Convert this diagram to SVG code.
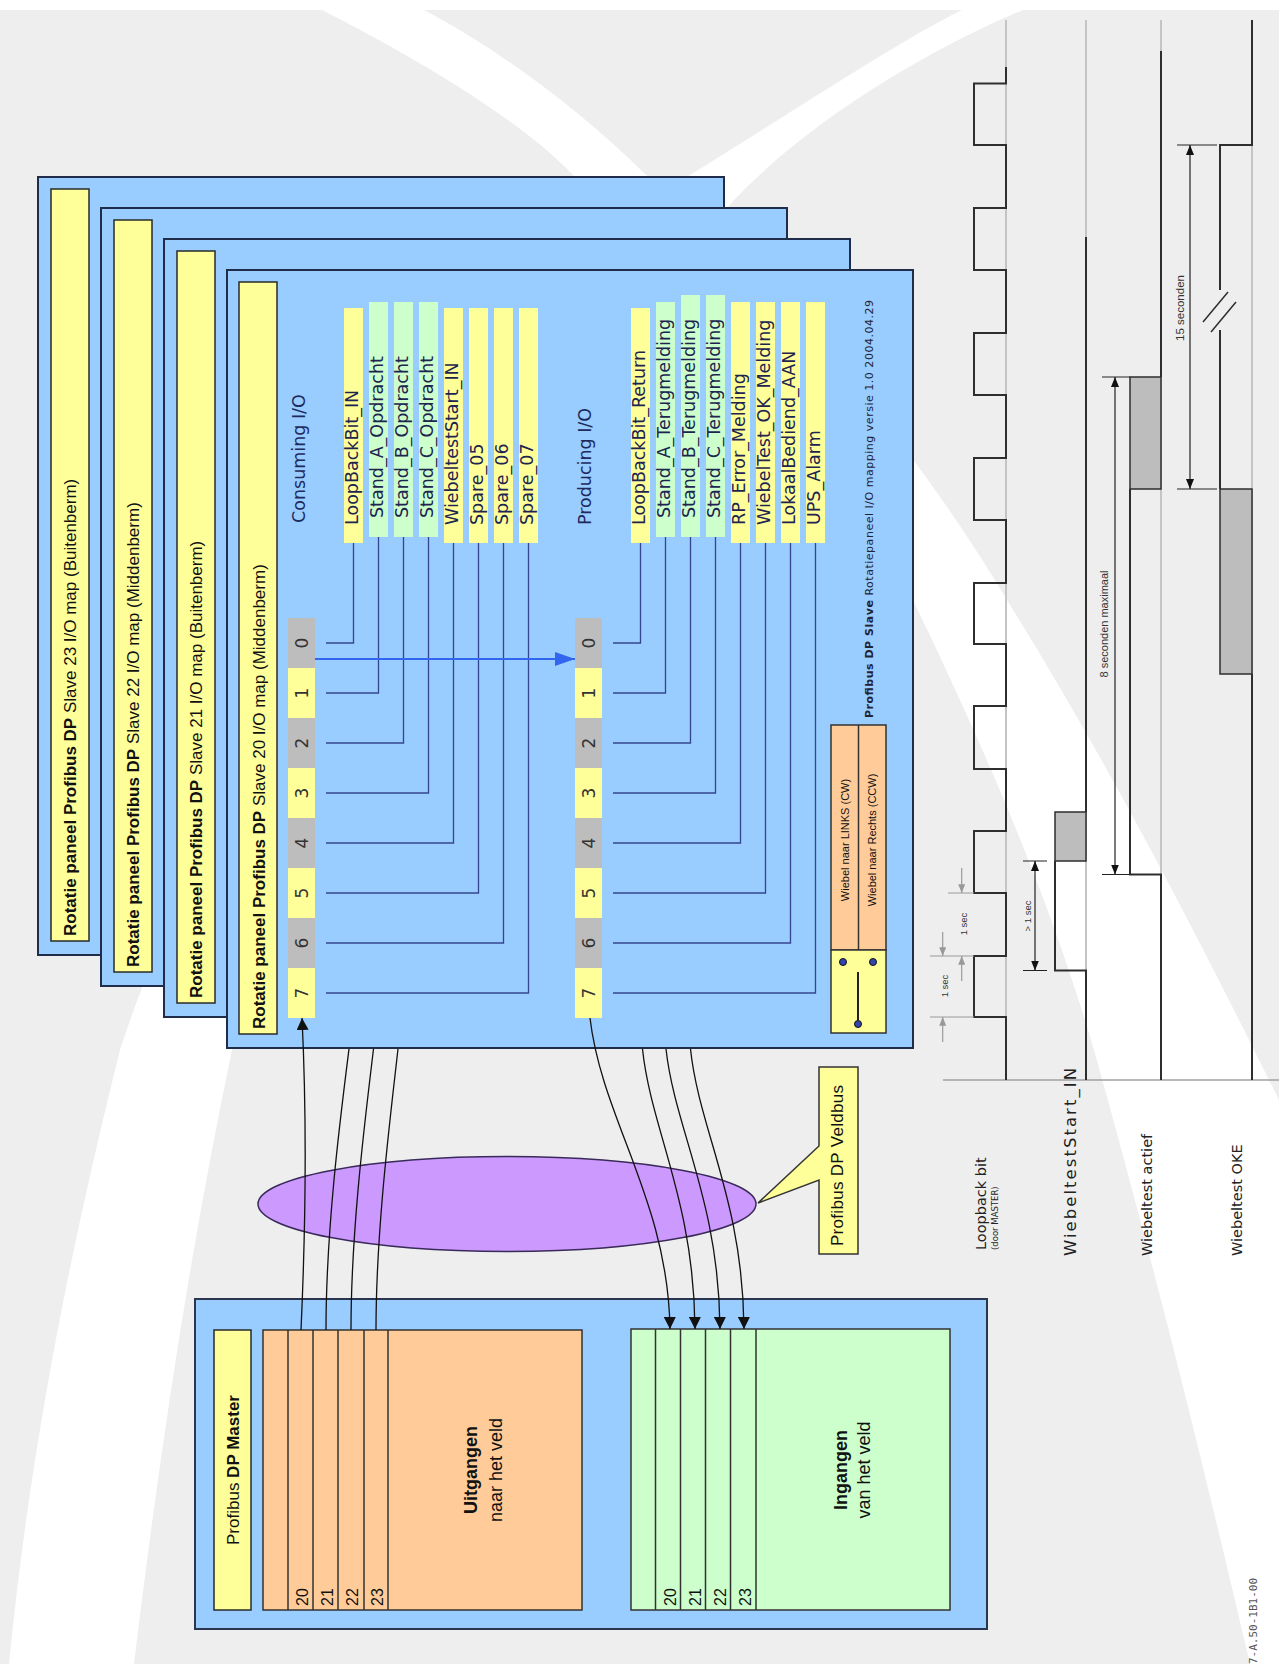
<svg xmlns="http://www.w3.org/2000/svg" width="1279" height="1664" viewBox="0 0 1279 1664">
<defs>
<style>
.panel{fill:#99ccff;stroke:#1f2c4a;stroke-width:2}
.tbar{fill:#ffff99;stroke:#2a2a2a;stroke-width:1.5}
.ttl{font-family:"Liberation Sans",Arial,sans-serif;font-size:17px;fill:#111}
.b{font-weight:bold}
.lbl{font-family:"DejaVu Sans",Verdana,sans-serif;font-size:17.5px;fill:#1d2450}
.hdr{font-family:"DejaVu Sans",Verdana,sans-serif;font-size:17.5px;fill:#1d2a5e}
.dig{font-family:"DejaVu Sans",Verdana,sans-serif;font-size:17px;fill:#333;text-anchor:middle}
.y{fill:#ffff99}
.g{fill:#ccffcc}
.gc{fill:#bdbdbd}
.wire{fill:none;stroke:#34458f;stroke-width:1.3}
.bus{fill:none;stroke:#111;stroke-width:1.3}
.wave{fill:none;stroke:#2e2e2e;stroke-width:2}
.base{fill:none;stroke:#c4c4c4;stroke-width:2}
.dim{fill:none;stroke:#222;stroke-width:1.2}
.dimg{fill:none;stroke:#9a9a9a;stroke-width:1.2}
.tbox{fill:#bdbdbd;stroke:#2e2e2e;stroke-width:1.5}
.small{font-family:"Liberation Sans",Arial,sans-serif;fill:#333;text-anchor:middle}
.sig{font-family:"DejaVu Sans",Verdana,sans-serif;fill:#222}
.ms{font-family:"Liberation Sans",Arial,sans-serif;fill:#111}
.box{stroke:#333;stroke-width:1.5}
</style>
<marker id="ah" viewBox="0 0 12 12" refX="12" refY="6" markerWidth="12" markerHeight="12" markerUnits="userSpaceOnUse" orient="auto"><path d="M0,0 L12,6 L0,12 Z" fill="#111"/></marker>
<marker id="ahb" viewBox="0 0 20 14" refX="20" refY="7" markerWidth="20" markerHeight="14" markerUnits="userSpaceOnUse" orient="auto"><path d="M0,0 L20,7 L0,14 Z" fill="#3366ee"/></marker>
<marker id="da" viewBox="0 0 10 8" refX="10" refY="4" markerWidth="10" markerHeight="8" markerUnits="userSpaceOnUse" orient="auto-start-reverse"><path d="M0,0 L10,4 L0,8 Z" fill="#111"/></marker>
<marker id="dg" viewBox="0 0 10 8" refX="10" refY="4" markerWidth="9" markerHeight="7" markerUnits="userSpaceOnUse" orient="auto"><path d="M0,0 L10,4 L0,8 Z" fill="#999"/></marker>
</defs>

<g id="background">
<rect x="0" y="0" width="1279" height="1664" fill="#ffffff"/>
<rect x="0" y="10" width="1279" height="1654" fill="#eeeeee"/>
<path d="M962,10 C900,40 780,120 690,175 C450,400 200,800 120,1050 C70,1250 30,1450 9,1664 L134,1664 C160,1450 190,1250 232,1050 C320,800 550,420 734,200 C820,110 950,40 1023,10 Z" fill="#ffffff"/>
<path d="M322,10 C420,60 520,120 571,173 C700,320 850,480 913,600 C990,760 1050,900 1094,1050 C1150,1250 1200,1450 1250,1664 L1279,1664 L1279,1100 C1180,900 1100,750 1007,600 C900,420 760,270 644,173 C580,110 500,50 424,10 Z" fill="#ffffff"/>
</g>

<g id="slave23">
<rect class="panel" x="38" y="177" width="686" height="778"/>
<rect class="tbar" x="51" y="189" width="38" height="752"/>
<text class="ttl" transform="translate(76,936) rotate(-90)"><tspan class="b">Rotatie paneel Profibus DP</tspan> Slave 23 I/O map (Buitenberm)</text>
</g>
<g id="slave22">
<rect class="panel" x="101" y="208" width="686" height="778"/>
<rect class="tbar" x="114" y="220" width="38" height="752"/>
<text class="ttl" transform="translate(139,967) rotate(-90)"><tspan class="b">Rotatie paneel Profibus DP</tspan> Slave 22 I/O map (Middenberm)</text>
</g>
<g id="slave21">
<rect class="panel" x="164" y="239" width="686" height="778"/>
<rect class="tbar" x="177" y="251" width="38" height="752"/>
<text class="ttl" transform="translate(202,998) rotate(-90)"><tspan class="b">Rotatie paneel Profibus DP</tspan> Slave 21 I/O map (Buitenberm)</text>
</g>
<g id="slave20">
<rect class="panel" x="227" y="270" width="686" height="778"/>
<rect class="tbar" x="239" y="282" width="38" height="752"/>
<text class="ttl" transform="translate(265,1029) rotate(-90)"><tspan class="b">Rotatie paneel Profibus DP</tspan> Slave 20 I/O map (Middenberm)</text>
<text class="hdr" transform="translate(305,523) rotate(-90)">Consuming I/O</text>
<text class="hdr" transform="translate(591,525) rotate(-90)">Producing I/O</text>
</g>

<g id="consuming-bits">
<rect class="gc" x="288" y="618" width="27" height="50"/>
<rect class="y" x="288" y="668" width="27" height="50"/>
<rect class="gc" x="288" y="718" width="27" height="50"/>
<rect class="y" x="288" y="768" width="27" height="50"/>
<rect class="gc" x="288" y="818" width="27" height="50"/>
<rect class="y" x="288" y="868" width="27" height="50"/>
<rect class="gc" x="288" y="918" width="27" height="50"/>
<rect class="y" x="288" y="968" width="27" height="50"/>
<text class="dig" transform="translate(307.5,643) rotate(-90)">0</text>
<text class="dig" transform="translate(307.5,693) rotate(-90)">1</text>
<text class="dig" transform="translate(307.5,743) rotate(-90)">2</text>
<text class="dig" transform="translate(307.5,793) rotate(-90)">3</text>
<text class="dig" transform="translate(307.5,843) rotate(-90)">4</text>
<text class="dig" transform="translate(307.5,893) rotate(-90)">5</text>
<text class="dig" transform="translate(307.5,943) rotate(-90)">6</text>
<text class="dig" transform="translate(307.5,993) rotate(-90)">7</text>
</g>
<g id="producing-bits">
<rect class="gc" x="575" y="618" width="27" height="50"/>
<rect class="y" x="575" y="668" width="27" height="50"/>
<rect class="gc" x="575" y="718" width="27" height="50"/>
<rect class="y" x="575" y="768" width="27" height="50"/>
<rect class="gc" x="575" y="818" width="27" height="50"/>
<rect class="y" x="575" y="868" width="27" height="50"/>
<rect class="gc" x="575" y="918" width="27" height="50"/>
<rect class="y" x="575" y="968" width="27" height="50"/>
<text class="dig" transform="translate(594.5,643) rotate(-90)">0</text>
<text class="dig" transform="translate(594.5,693) rotate(-90)">1</text>
<text class="dig" transform="translate(594.5,743) rotate(-90)">2</text>
<text class="dig" transform="translate(594.5,793) rotate(-90)">3</text>
<text class="dig" transform="translate(594.5,843) rotate(-90)">4</text>
<text class="dig" transform="translate(594.5,893) rotate(-90)">5</text>
<text class="dig" transform="translate(594.5,943) rotate(-90)">6</text>
<text class="dig" transform="translate(594.5,993) rotate(-90)">7</text>
</g>

<g id="consuming-labels">
<rect class="y" x="344" y="308" width="19" height="235"/>
<rect class="g" x="369" y="302" width="19" height="235"/>
<rect class="g" x="394" y="302" width="19" height="235"/>
<rect class="g" x="419" y="302" width="19" height="235"/>
<rect class="y" x="444" y="308" width="19" height="235"/>
<rect class="y" x="469" y="308" width="19" height="235"/>
<rect class="y" x="494" y="308" width="19" height="235"/>
<rect class="y" x="519" y="308" width="19" height="235"/>
<text class="lbl" transform="translate(357.5,525) rotate(-90)">LoopBackBit_IN</text>
<text class="lbl" transform="translate(382.5,518) rotate(-90)">Stand_A_Opdracht</text>
<text class="lbl" transform="translate(407.5,518) rotate(-90)">Stand_B_Opdracht</text>
<text class="lbl" transform="translate(432.5,518) rotate(-90)">Stand_C_Opdracht</text>
<text class="lbl" transform="translate(457.5,525) rotate(-90)">WiebeltestStart_IN</text>
<text class="lbl" transform="translate(482.5,525) rotate(-90)">Spare_05</text>
<text class="lbl" transform="translate(507.5,525) rotate(-90)">Spare_06</text>
<text class="lbl" transform="translate(532.5,525) rotate(-90)">Spare_07</text>
</g>
<g id="producing-labels">
<rect class="y" x="631" y="308" width="19" height="235"/>
<rect class="g" x="656" y="302" width="19" height="235"/>
<rect class="g" x="681" y="295" width="19" height="242"/>
<rect class="g" x="706" y="295" width="19" height="242"/>
<rect class="y" x="731" y="302" width="19" height="241"/>
<rect class="y" x="756" y="302" width="19" height="241"/>
<rect class="y" x="781" y="302" width="19" height="241"/>
<rect class="y" x="806" y="302" width="19" height="241"/>
<text class="lbl" transform="translate(644.5,525) rotate(-90)">LoopBackBit_Return</text>
<text class="lbl" transform="translate(669.5,518) rotate(-90)">Stand_A_Terugmelding</text>
<text class="lbl" transform="translate(694.5,518) rotate(-90)">Stand_B_Terugmelding</text>
<text class="lbl" transform="translate(719.5,518) rotate(-90)">Stand_C_Terugmelding</text>
<text class="lbl" transform="translate(744.5,525) rotate(-90)">RP_Error_Melding</text>
<text class="lbl" transform="translate(769.5,525) rotate(-90)">WiebelTest_OK_Melding</text>
<text class="lbl" transform="translate(794.5,525) rotate(-90)">LokaalBediend_AAN</text>
<text class="lbl" transform="translate(819.5,525) rotate(-90)">UPS_Alarm</text>
</g>

<g id="switch">
<rect class="box" x="831" y="725" width="55" height="225" fill="#ffcc99"/>
<line x1="858.5" y1="725" x2="858.5" y2="950" stroke="#333" stroke-width="1.5"/>
<rect class="box" x="831" y="950" width="55" height="83" fill="#ffff99"/>
<line x1="858" y1="972" x2="858" y2="1020" stroke="#222" stroke-width="2"/>
<circle cx="843" cy="962" r="3.5" fill="#3344aa" stroke="#111" stroke-width="1"/>
<circle cx="873" cy="962" r="3.5" fill="#3344aa" stroke="#111" stroke-width="1"/>
<circle cx="858" cy="1024" r="3.5" fill="#3344aa" stroke="#111" stroke-width="1"/>
<text class="ms" font-size="11" fill="#5a4a3a" text-anchor="middle" transform="translate(849,840) rotate(-90)">Wiebel naar LINKS (CW)</text>
<text class="ms" font-size="11" fill="#5a4a3a" text-anchor="middle" transform="translate(876,840) rotate(-90)">Wiebel naar Rechts (CCW)</text>
</g>
<g id="footer">
<text font-family="DejaVu Sans, sans-serif" font-size="11" fill="#223" textLength="418" transform="translate(873,718) rotate(-90)"><tspan font-weight="bold">Profibus DP Slave</tspan> Rotatiepaneel I/O mapping versie 1.0 2004.04.29</text>
</g>

<g id="bus-ellipse">
<ellipse cx="507" cy="1204" rx="249" ry="47.5" fill="#cc99ff" stroke="#3a2a5a" stroke-width="1.5"/>
</g>
<g id="callout">
<path d="M819,1067 H858 V1254 H819 V1180 L758,1203 L819,1146 Z" fill="#ffff99" stroke="#333" stroke-width="1.5"/>
<text class="ms" font-size="17" textLength="161" transform="translate(843,1246) rotate(-90)">Profibus DP Veldbus</text>
</g>

<g id="master">
<rect x="195" y="1299" width="792" height="330" fill="#99ccff" stroke="#2a3550" stroke-width="2"/>
<rect class="tbar" x="214" y="1330" width="37" height="280"/>
<text class="ms" font-size="17" text-anchor="middle" transform="translate(239,1470) rotate(-90)">Profibus <tspan font-weight="bold">DP Master</tspan></text>
<rect class="box" x="263" y="1330" width="319" height="280" fill="#ffcc99"/>
<path d="M288,1330 V1610 M313,1330 V1610 M338,1330 V1610 M364,1330 V1610 M388,1330 V1610" stroke="#333" stroke-width="1.5"/>
<text class="ms" font-size="16" transform="translate(308,1606) rotate(-90)">20</text>
<text class="ms" font-size="16" transform="translate(333,1606) rotate(-90)">21</text>
<text class="ms" font-size="16" transform="translate(358,1606) rotate(-90)">22</text>
<text class="ms" font-size="16" transform="translate(383,1606) rotate(-90)">23</text>
<text class="ms" font-size="18" font-weight="bold" text-anchor="middle" transform="translate(477,1470) rotate(-90)">Uitgangen</text>
<text class="ms" font-size="18" text-anchor="middle" transform="translate(502,1470) rotate(-90)">naar het veld</text>
<rect class="box" x="631" y="1329" width="319" height="281" fill="#ccffcc"/>
<path d="M655.5,1329 V1610 M680.5,1329 V1610 M705.5,1329 V1610 M730.5,1329 V1610 M756,1329 V1610" stroke="#333" stroke-width="1.5"/>
<text class="ms" font-size="16" transform="translate(676,1606) rotate(-90)">20</text>
<text class="ms" font-size="16" transform="translate(701,1606) rotate(-90)">21</text>
<text class="ms" font-size="16" transform="translate(726,1606) rotate(-90)">22</text>
<text class="ms" font-size="16" transform="translate(751,1606) rotate(-90)">23</text>
<text class="ms" font-size="18" font-weight="bold" text-anchor="middle" transform="translate(847,1470) rotate(-90)">Ingangen</text>
<text class="ms" font-size="18" text-anchor="middle" transform="translate(870,1470) rotate(-90)">van het veld</text>
</g>

<g id="connectors">
<path class="wire" d="M326,643 H353.5 V543"/>
<path class="wire" d="M326,693 H378.5 V537"/>
<path class="wire" d="M326,743 H403.5 V537"/>
<path class="wire" d="M326,793 H428.5 V537"/>
<path class="wire" d="M326,843 H453.5 V543"/>
<path class="wire" d="M326,893 H478.5 V543"/>
<path class="wire" d="M326,943 H503.5 V543"/>
<path class="wire" d="M326,993 H528.5 V543"/>
<path class="wire" d="M613,643 H640.5 V543"/>
<path class="wire" d="M613,693 H665.5 V537"/>
<path class="wire" d="M613,743 H690.5 V537"/>
<path class="wire" d="M613,793 H715.5 V537"/>
<path class="wire" d="M613,843 H740.5 V543"/>
<path class="wire" d="M613,893 H765.5 V543"/>
<path class="wire" d="M613,943 H790.5 V543"/>
<path class="wire" d="M613,993 H815.5 V543"/>
<path d="M315,659 H575" fill="none" stroke="#3366ee" stroke-width="1.8" marker-end="url(#ahb)"/>
<path class="bus" d="M301,1330 C306,1220 307,1120 302,1018" marker-end="url(#ah)"/>
<path class="bus" d="M326,1330 C326,1230 340,1120 349,1049"/>
<path class="bus" d="M351,1330 C351,1230 365,1120 373.5,1049"/>
<path class="bus" d="M376,1330 C376,1230 390,1120 398,1049"/>
<path class="bus" d="M590,1018 C602,1120 668,1200 670,1329" marker-end="url(#ah)"/>
<path class="bus" d="M642.5,1049 C651,1130 694,1200 695,1329" marker-end="url(#ah)"/>
<path class="bus" d="M666,1049 C675,1130 719,1200 720,1329" marker-end="url(#ah)"/>
<path class="bus" d="M690.5,1049 C699,1130 743,1200 744,1329" marker-end="url(#ah)"/>
</g>

<g id="timing">
<path d="M943,1080 H1279" stroke="#a0a0a0" stroke-width="1.5" fill="none"/>
<path class="base" d="M1006,20 V1080 M1086,20 V1080 M1161,20 V1080 M1252,20 V1080"/>
<path class="wave" d="M1006,1080 V1017 H974 V956 H1006 V893 H974 V831 H1006 V769 H974 V706 H1006 V644 H974 V583 H1006 V520 H974 V458 H1006 V395 H974 V333 H1006 V270 H974 V208 H1006 V145 H974 V83.5 H1006 V67"/>
<path class="wave" d="M1086,1080 V970.5 H1055 V861"/>
<rect class="tbox" x="1055" y="812" width="31" height="49"/>
<path class="wave" d="M1086,812 V237"/>
<path class="wave" d="M1161,1080 V874.5 H1130 V489"/>
<rect class="tbox" x="1130" y="377" width="31" height="112"/>
<path class="wave" d="M1161,377 V51"/>
<path class="wave" d="M1252,1080 V674"/>
<rect class="tbox" x="1220" y="489" width="32" height="185"/>
<path class="wave" d="M1220,489 V330 M1220,290 V145 H1252 V20"/>
<path d="M1203,322 L1228,292 M1211,332 L1236,302" stroke="#2e2e2e" stroke-width="1.5" fill="none"/>
<path class="dimg" d="M930,1017 H974 M930,956 H974 M948,893 H974"/>
<path class="dimg" d="M942.7,1042 V1017" marker-end="url(#dg)"/>
<path class="dimg" d="M942.7,932 V956" marker-end="url(#dg)"/>
<path class="dimg" d="M961.7,868 V893" marker-end="url(#dg)"/>
<path class="dimg" d="M961.7,981 V956" marker-end="url(#dg)"/>
<text class="small" style="font-size:9.5px" transform="translate(948,986) rotate(-90)">1 sec</text>
<text class="small" style="font-size:9.5px" transform="translate(967,924) rotate(-90)">1 sec</text>
<path class="dim" d="M1023,861 H1047 M1023,970.5 H1047"/>
<path class="dim" d="M1035,861 V970.5" marker-start="url(#da)" marker-end="url(#da)"/>
<text class="small" style="font-size:9.5px" transform="translate(1031,916) rotate(-90)">&gt; 1 sec</text>
<path class="dim" d="M1102,377 H1130 M1102,874.5 H1130"/>
<path class="dim" d="M1115,377 V874.5" marker-start="url(#da)" marker-end="url(#da)"/>
<text class="small" style="font-size:11px" transform="translate(1108,624) rotate(-90)">8 seconden maximaal</text>
<path class="dim" d="M1177,145 H1217 M1177,489 H1217"/>
<path class="dim" d="M1190,145 V489" marker-start="url(#da)" marker-end="url(#da)"/>
<text class="small" style="font-size:11.5px" transform="translate(1184,308) rotate(-90)">15 seconden</text>
<text class="sig" style="font-size:14.5px" transform="translate(986,1250) rotate(-90)">Loopback bit</text>
<text class="sig" style="font-size:8.5px" transform="translate(998,1250) rotate(-90)">(door MASTER)</text>
<text class="sig" style="font-size:16.5px" textLength="188" transform="translate(1076,1256) rotate(-90)">WiebeltestStart_IN</text>
<text class="sig" style="font-size:14.5px" transform="translate(1152,1256) rotate(-90)">Wiebeltest actief</text>
<text class="sig" style="font-size:14.5px" transform="translate(1242,1256) rotate(-90)">Wiebeltest OKE</text>
<text font-family="DejaVu Sans Mono, monospace" font-size="11" fill="#555" transform="translate(1257,1664) rotate(-90)">7-A.50-1B1-00</text>
</g>
</svg>
